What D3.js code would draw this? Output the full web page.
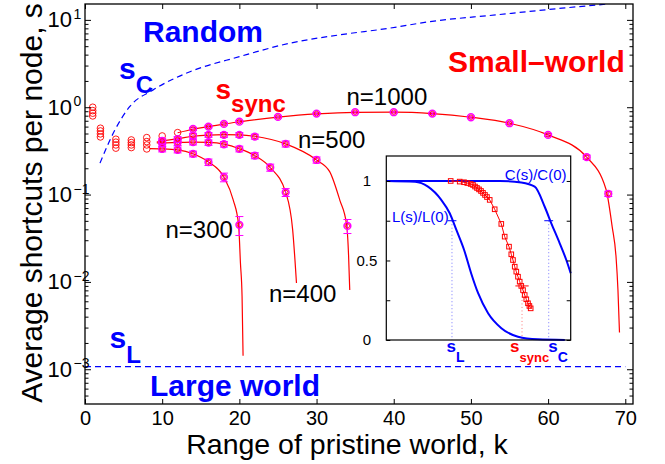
<!DOCTYPE html>
<html>
<head>
<meta charset="utf-8">
<script src="https://cdn.jsdelivr.net/npm/d3@7"></script>
<style>
    body { margin: 0; background: #fff; }
    text { font-family: "Liberation Sans", Arial, sans-serif; }
</style>
</head>
<body>
<svg id="chart" width="665" height="464"></svg>
<script>
// ---- data ----

// small k: plain red circles, one value per network size
var kOpen = [1, 2, 4, 6, 8, 10, 12];
var open300 = [0.795, 0.457, 0.340, 0.345, 0.333, 0.333, 0.325];
var open400 = [0.854, 0.495, 0.370, 0.370, 0.370, 0.387, 0.394];
var open500 = [0.915, 0.535, 0.398, 0.394, 0.404, 0.411, 0.430];
var open1000 = [1.0, 0.575, 0.430, 0.422, 0.449, 0.469, 0.512];

// averaged points with error bars
var k300 = [10, 12, 14, 16, 18, 20];
var s300 = [0.333, 0.325, 0.292, 0.235, 0.158, 0.045];
var e300 = [0.025, 0.025, 0.022, 0.02, 0.018, 0.011];

var k400 = [10, 12, 14, 16, 18, 20, 22, 24, 26];
var s400 = [0.387, 0.394, 0.400, 0.394, 0.377, 0.333, 0.279, 0.204, 0.106];
var e400 = [0.03, 0.03, 0.03, 0.028, 0.027, 0.025, 0.022, 0.019, 0.011];

var k500 = [10, 12, 14, 16, 18, 20, 22, 26, 30, 34];
var s500 = [0.411, 0.430, 0.473, 0.482, 0.482, 0.482, 0.461, 0.380, 0.249, 0.0438];
var e500 = [0.03, 0.03, 0.03, 0.03, 0.03, 0.03, 0.03, 0.03, 0.02, 0.008];

var k1000 = [14, 16, 18, 20, 25, 30, 35, 40, 45, 50, 55, 60, 65, 67.8];
var s1000 = [0.565, 0.600, 0.644, 0.684, 0.774, 0.845, 0.877, 0.877, 0.845, 0.768, 0.656, 0.482, 0.268, 0.102];
var e1000 = [0.02, 0.02, 0.02, 0.02, 0.02, 0.02, 0.02, 0.02, 0.02, 0.02, 0.02, 0.018, 0.015, 0.007];

// fitted curves (k, s)
var fit300 = [[8.4, 0.336], [10, 0.334], [12, 0.325], [14, 0.293], [16, 0.236], [18, 0.158],
    [19.2, 0.087], [19.9, 0.045], [20.14, 0.0164], [20.35, 0.0068], [20.48, 0.00143]];
var fit400 = [[9.3, 0.39], [10, 0.39], [12, 0.395], [14, 0.398], [16, 0.395], [18, 0.378],
    [20, 0.335], [22, 0.279], [24, 0.204], [26, 0.106], [26.9, 0.04], [27.2, 0.018], [27.4, 0.0097]];
var fit500 = [[9.3, 0.40], [10, 0.412], [12, 0.435], [14, 0.465], [16, 0.48], [18, 0.485],
    [20, 0.483], [22, 0.465], [26, 0.38], [30, 0.249], [31.7, 0.183], [33, 0.087], [33.9, 0.045],
    [34.15, 0.02], [34.3, 0.0081]];
var fit1000 = [[12, 0.51], [14, 0.56], [16, 0.6], [18, 0.642], [20, 0.68], [25, 0.77], [30, 0.84],
    [35, 0.875], [40, 0.877], [45, 0.845], [50, 0.768], [55, 0.656], [60, 0.482], [65, 0.268],
    [67.5, 0.115], [68.3, 0.043], [68.8, 0.0195], [69.05, 0.0081], [69.25, 0.00264]];

// thresholds
var kC = [1.94, 3.88, 5.81, 8.83, 13.6, 20, 26.5, 32.9, 39.4, 44.6, 53.2, 61.8, 67.8];
var sC = [0.229, 0.55, 1.02, 1.58, 2.55, 3.79, 5.4, 6.72, 8.02, 9.53, 11.4, 13.6, 15.2];
var sL = 1.07e-3;

var xTicks = [0, 10, 20, 30, 40, 50, 60, 70];
var yTickExp = [-3, -2, -1, 0, 1];

// inset: x is log10 s
var lX = [-5, -4.22, -3.87, -3.51, -3.28, -3.10, -2.89, -2.70, -2.51, -2.24, -1.88, -1.43, -0.89, -0.16];
var lY = [1, 0.995, 0.964, 0.881, 0.797, 0.692, 0.566, 0.42, 0.294, 0.168, 0.074, 0.021, 0.004, 0];
var cX = [-5, -1.92, -1.34, -0.976, -0.705, -0.526, -0.298, -0.119, 0];
var cY = [1, 1, 0.99, 0.964, 0.838, 0.734, 0.608, 0.503, 0.42];
var syncX = [-3.254, -3.010, -2.893, -2.804, -2.712, -2.649, -2.595, -2.541, -2.486, -2.432,
    -2.378, -2.324, -2.27, -2.196, -2.061, -1.882, -1.79, -1.673, -1.611, -1.565, -1.518,
    -1.475, -1.429, -1.383, -1.34, -1.293, -1.247, -1.204, -1.158, -1.12, -1.085];
var syncY = [1.0, 0.996, 0.992, 0.987, 0.981, 0.975, 0.965, 0.956, 0.947, 0.937,
    0.925, 0.912, 0.899, 0.881, 0.822, 0.730, 0.65, 0.587, 0.539, 0.503, 0.461,
    0.430, 0.398, 0.367, 0.340, 0.314, 0.283, 0.256, 0.231, 0.214, 0.199];
var insetMarks = [
    {name: 'L', s: -3.219, v: 0.75, half: 0.12, color: '#0000ff', dot: '#7777ff'},
    {name: 'sync', s: -1.32, v: 0.34, half: 0.18, color: '#ff0000', dot: '#ff7777'},
    {name: 'C', s: -0.596, v: 0.75, half: 0.12, color: '#0000ff', dot: '#7777ff'}
];
var insetTicks = [0, 0.25, 0.5, 0.75, 1];

// ---- drawing ----
var svg = d3.select('#chart');
var RED = '#ff0000', BLUE = '#0000ff', MAG = '#ff00ff';

var x = d3.scaleLinear().domain([0, 71]).range([85, 633]);
var y = d3.scaleLog().domain([4e-4, 15.2]).range([404, 4]);

svg.append('rect').attr('width', 665).attr('height', 464).attr('fill', '#fff');

svg.append('clipPath').attr('id', 'clip')
    .append('rect').attr('x', 85).attr('y', 4).attr('width', 548).attr('height', 400);

var plot = svg.append('g').attr('clip-path', 'url(#clip)');

var line = d3.line()
    .x(function (d) { return x(d[0]); })
    .y(function (d) { return y(d[1]); })
    .curve(d3.curveMonotoneX);

// s_C and s_L dashed
plot.append('path')
    .datum(d3.zip(kC, sC))
    .attr('d', line)
    .attr('fill', 'none').attr('stroke', BLUE).attr('stroke-width', 1.2)
    .attr('stroke-dasharray', '6,4');
plot.append('path')
    .datum([[0, sL], [70, sL]])
    .attr('d', d3.line().x(function (d) { return x(d[0]); }).y(function (d) { return y(d[1]); }))
    .attr('fill', 'none').attr('stroke', BLUE).attr('stroke-width', 1.2)
    .attr('stroke-dasharray', '6,4');

// fit lines
[fit300, fit400, fit500, fit1000].forEach(function (f) {
    plot.append('path').datum(f).attr('d', line)
        .attr('fill', 'none').attr('stroke', RED).attr('stroke-width', 1.2);
});

// plain red circles
[open300, open400, open500, open1000].forEach(function (vals) {
    plot.selectAll(null)
        .data(d3.zip(kOpen, vals))
        .enter().append('circle')
        .attr('cx', function (d) { return x(d[0]); })
        .attr('cy', function (d) { return y(d[1]); })
        .attr('r', 3.3)
        .attr('fill', 'none').attr('stroke', RED).attr('stroke-width', 0.9);
});

// averaged points with error bars
function drawMeasured(ks, ss, es) {
    var pts = d3.zip(ks, ss, es);
    var g = plot.append('g').attr('stroke', MAG).attr('fill', 'none');
    var bars = g.selectAll(null).data(pts).enter().append('g');
    bars.append('line')
        .attr('x1', function (d) { return x(d[0]); })
        .attr('x2', function (d) { return x(d[0]); })
        .attr('y1', function (d) { return y(d[1] - d[2]); })
        .attr('y2', function (d) { return y(d[1] + d[2]); })
        .attr('stroke-width', 1);
    [-1, 1].forEach(function (sgn) {
        bars.append('line')
            .attr('x1', function (d) { return x(d[0]) - 4; })
            .attr('x2', function (d) { return x(d[0]) + 4; })
            .attr('y1', function (d) { return y(d[1] + sgn * d[2]); })
            .attr('y2', function (d) { return y(d[1] + sgn * d[2]); })
            .attr('stroke-width', 1);
    });
    bars.append('circle')
        .attr('cx', function (d) { return x(d[0]); })
        .attr('cy', function (d) { return y(d[1]); })
        .attr('r', 3.4)
        .attr('stroke-width', 1.5);
    g.selectAll(null).data(pts).enter().append('circle')
        .attr('cx', function (d) { return x(d[0]); })
        .attr('cy', function (d) { return y(d[1]); })
        .attr('r', 2.2)
        .attr('stroke', RED).attr('stroke-width', 0.8);
}
drawMeasured(k300, s300, e300);
drawMeasured(k400, s400, e400);
drawMeasured(k500, s500, e500);
drawMeasured(k1000, s1000, e1000);

// axes, ticks pointing inward
var minor = [];
for (var p = -4; p <= 1; p++) {
    for (var m = 2; m <= 9; m++) {
        var v = m * Math.pow(10, p);
        if (v > 4e-4 && v < 15.2) minor.push(v);
    }
}
var major = yTickExp.map(function (e) { return Math.pow(10, e); });

function yAxis(axisFn, xpos, vals, len) {
    svg.append('g')
        .attr('transform', 'translate(' + xpos + ',0)')
        .call(axisFn(y).tickValues(vals).tickSizeInner(-len).tickSizeOuter(0).tickFormat(''))
        .call(function (g) { g.select('.domain').remove(); })
        .selectAll('line').attr('stroke', '#000').attr('stroke-width', 1);
}
yAxis(d3.axisLeft, 85, major, 6);
yAxis(d3.axisLeft, 85, minor, 3.5);
yAxis(d3.axisRight, 633, major, 6);
yAxis(d3.axisRight, 633, minor, 3.5);

var xb = svg.append('g')
    .attr('transform', 'translate(0,404)')
    .call(d3.axisBottom(x).tickValues(xTicks).tickSizeInner(-5).tickSizeOuter(0).tickPadding(7));
xb.select('.domain').remove();
xb.selectAll('text').attr('font-size', 20).attr('fill', '#000')
    .style('font-family', '"Liberation Sans", Arial, sans-serif');
var xt = svg.append('g')
    .attr('transform', 'translate(0,4)')
    .call(d3.axisTop(x).tickValues(xTicks).tickSizeInner(-5).tickSizeOuter(0).tickFormat(''));
xt.select('.domain').remove();

// y tick labels 10^n
var ylab = svg.append('g').selectAll(null).data(yTickExp).enter();
ylab.append('text')
    .attr('x', 72).attr('y', function (d) { return y(Math.pow(10, d)) + 7.5; })
    .attr('text-anchor', 'end').attr('font-size', 22)
    .text('10');
ylab.append('text')
    .attr('x', 73.5).attr('y', function (d) { return y(Math.pow(10, d)) - 1; })
    .attr('font-size', 14)
    .text(function (d) { return d < 0 ? '\u2212' + (-d) : String(d); });

// frame
svg.append('rect')
    .attr('x', 85).attr('y', 4).attr('width', 548).attr('height', 400)
    .attr('fill', 'none').attr('stroke', '#000').attr('stroke-width', 1.3);

// axis titles
svg.append('text')
    .attr('x', 347).attr('y', 453.5)
    .attr('text-anchor', 'middle').attr('font-size', 28.5)
    .text('Range of pristine world, k');
svg.append('text')
    .attr('transform', 'translate(42,203) rotate(-90)')
    .attr('text-anchor', 'middle').attr('font-size', 30)
    .text('Average shortcuts per node, s');

// region labels
function label(txt, px, py, size, color, weight) {
    return svg.append('text').attr('x', px).attr('y', py)
        .attr('font-size', size).attr('fill', color)
        .attr('font-weight', weight || 'normal').text(txt);
}
function subLabel(main, sub, px, py, size, subSize, drop, color) {
    var t = svg.append('text').attr('x', px).attr('y', py)
        .attr('fill', color).attr('font-weight', 'bold');
    t.append('tspan').attr('font-size', size).text(main);
    t.append('tspan').attr('font-size', subSize).attr('dy', drop).text(sub);
}
label('Random', 143, 41.7, 30, BLUE, 'bold');
label('Small\u2013world', 448, 71.7, 30, RED, 'bold');
label('Large world', 150, 395.7, 30, BLUE, 'bold');
subLabel('s', 'C', 119, 78.5, 30, 24, 14, BLUE);
subLabel('s', 'sync', 215.5, 98.5, 28, 24, 13.5, RED);
subLabel('s', 'L', 109.5, 348.3, 30, 24, 14.4, BLUE);

label('n=1000', 346.5, 105, 24, '#000');
label('n=500', 298, 148.3, 24, '#000');
label('n=300', 165.5, 238.3, 24, '#000');
label('n=400', 269, 301.7, 24, '#000');

// ---- inset ----
var ix = d3.scaleLinear().domain([-5, 0]).range([386.3, 570.7]);
var iy = d3.scaleLinear().domain([0, 1.157]).range([340, 156]);
var inset = svg.append('g');

inset.append('rect')
    .attr('x', 386.3).attr('y', 156).attr('width', 184.4).attr('height', 184)
    .attr('fill', '#fff');

var iline = d3.line()
    .x(function (d) { return ix(d[0]); })
    .y(function (d) { return iy(d[1]); })
    .curve(d3.curveMonotoneX);

// dotted guides and markers
insetMarks.forEach(function (mk) {
    inset.append('line')
        .attr('x1', ix(mk.s)).attr('x2', ix(mk.s))
        .attr('y1', iy(mk.v)).attr('y2', iy(0))
        .attr('stroke', mk.dot).attr('stroke-width', 1)
        .attr('stroke-dasharray', '1,2.5');
});

inset.append('path').datum(d3.zip(lX, lY)).attr('d', iline)
    .attr('fill', 'none').attr('stroke', BLUE).attr('stroke-width', 2);
inset.append('path').datum(d3.zip(cX, cY)).attr('d', iline)
    .attr('fill', 'none').attr('stroke', BLUE).attr('stroke-width', 2);

inset.append('path').datum(d3.zip(syncX, syncY))
    .attr('d', d3.line().x(function (d) { return ix(d[0]); }).y(function (d) { return iy(d[1]); }))
    .attr('fill', 'none').attr('stroke', RED).attr('stroke-width', 1);
inset.selectAll(null).data(d3.zip(syncX, syncY)).enter().append('rect')
    .attr('x', function (d) { return ix(d[0]) - 2.3; })
    .attr('y', function (d) { return iy(d[1]) - 2.3; })
    .attr('width', 4.6).attr('height', 4.6)
    .attr('fill', 'none').attr('stroke', RED).attr('stroke-width', 1);

insetMarks.forEach(function (mk) {
    inset.append('line')
        .attr('x1', ix(mk.s - mk.half)).attr('x2', ix(mk.s + mk.half))
        .attr('y1', iy(mk.v)).attr('y2', iy(mk.v))
        .attr('stroke', mk.color).attr('stroke-width', 1);
});

// inset axes
var il = inset.append('g')
    .attr('transform', 'translate(386.3,0)')
    .call(d3.axisLeft(iy).tickValues(insetTicks).tickSizeInner(-4).tickSizeOuter(0)
        .tickFormat(function (d) { return d === 0.5 ? '0.5' : (d === 0 || d === 1 ? String(d) : ''); }));
il.select('.domain').remove();
il.selectAll('text').attr('x', -19.5).attr('text-anchor', 'middle')
    .attr('font-size', 15).attr('fill', '#000')
    .style('font-family', '"Liberation Sans", Arial, sans-serif');
var ir = inset.append('g')
    .attr('transform', 'translate(570.7,0)')
    .call(d3.axisRight(iy).tickValues(insetTicks).tickSizeInner(-4).tickSizeOuter(0).tickFormat(''));
ir.select('.domain').remove();

inset.append('rect')
    .attr('x', 386.3).attr('y', 156).attr('width', 184.4).attr('height', 184)
    .attr('fill', 'none').attr('stroke', '#000').attr('stroke-width', 1.2);

// inset labels
inset.append('text').attr('x', 392).attr('y', 221.7)
    .attr('font-size', 15).attr('fill', BLUE).text('L(s)/L(0)');
inset.append('text').attr('x', 566.5).attr('y', 180)
    .attr('text-anchor', 'end').attr('font-size', 15).attr('fill', BLUE).text('C(s)/C(0)');
subLabel('s', 'L', ix(-3.219) - 5.5, 352.3, 17, 14, 9.4, BLUE);
subLabel('s', 'sync', ix(-1.32) - 12, 352.3, 17, 13, 9.4, RED);
subLabel('s', 'C', ix(-0.596) - 0.5, 352.3, 17, 14, 9.4, BLUE);
</script>
</body>
</html>
